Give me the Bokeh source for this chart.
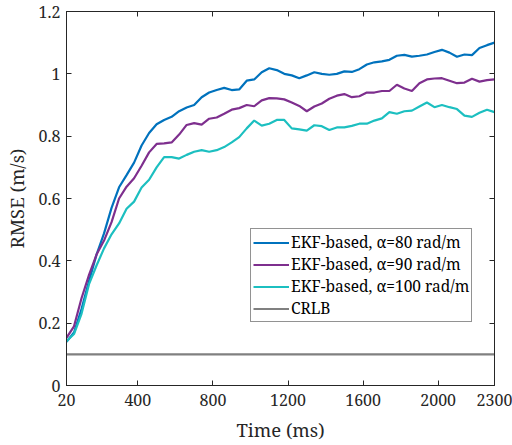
from bokeh.plotting import figure
from bokeh.models import Legend, LegendItem, LinearAxis, FixedTicker, Range1d, CustomJSTickFormatter
from bokeh.embed import file_html
from bokeh.resources import INLINE

time_ms = [20, 60, 100, 140, 180, 220, 260, 300, 340, 380, 420, 460, 500, 540, 580,
           620, 660, 700, 740, 780, 820, 860, 900, 940, 980, 1020, 1060, 1100, 1140,
           1180, 1220, 1260, 1300, 1340, 1380, 1420, 1460, 1500, 1540, 1580, 1620,
           1660, 1700, 1740, 1780, 1820, 1860, 1900, 1940, 1980, 2020, 2060, 2100,
           2140, 2180, 2220, 2260, 2300]

rmse_a80 = [0.140, 0.170, 0.245, 0.335, 0.420, 0.488, 0.570, 0.636, 0.675, 0.715,
            0.770, 0.810, 0.838, 0.852, 0.862, 0.880, 0.892, 0.900, 0.925, 0.940,
            0.948, 0.955, 0.948, 0.950, 0.978, 0.982, 1.005, 1.018, 1.012, 1.000,
            0.995, 0.986, 0.995, 1.005, 1.000, 0.997, 1.000, 1.008, 1.006, 1.015,
            1.030, 1.037, 1.040, 1.045, 1.058, 1.061, 1.055, 1.058, 1.062, 1.070,
            1.077, 1.068, 1.055, 1.062, 1.060, 1.083, 1.092, 1.100]

rmse_a90 = [0.153, 0.190, 0.280, 0.355, 0.420, 0.465, 0.524, 0.600, 0.638, 0.665,
            0.705, 0.748, 0.775, 0.777, 0.780, 0.805, 0.836, 0.842, 0.837, 0.856,
            0.860, 0.872, 0.885, 0.890, 0.900, 0.896, 0.915, 0.922, 0.921, 0.918,
            0.908, 0.897, 0.880, 0.895, 0.905, 0.920, 0.930, 0.935, 0.925, 0.928,
            0.940, 0.940, 0.945, 0.945, 0.965, 0.953, 0.945, 0.970, 0.982, 0.985,
            0.986, 0.978, 0.970, 0.972, 0.984, 0.975, 0.980, 0.982]

rmse_a100 = [0.142, 0.165, 0.230, 0.325, 0.385, 0.440, 0.485, 0.520, 0.567, 0.590,
             0.635, 0.660, 0.700, 0.733, 0.733, 0.728, 0.740, 0.750, 0.755, 0.750,
             0.755, 0.765, 0.780, 0.797, 0.825, 0.850, 0.834, 0.840, 0.852, 0.852,
             0.825, 0.822, 0.818, 0.835, 0.832, 0.820, 0.828, 0.828, 0.833, 0.840,
             0.840, 0.850, 0.857, 0.877, 0.872, 0.880, 0.882, 0.895, 0.908, 0.893,
             0.900, 0.893, 0.887, 0.866, 0.862, 0.875, 0.885, 0.877]

crlb_value = 0.1
crlb = [crlb_value] * len(time_ms)

labels = ["EKF-based, \u03b1=80 rad/m", "EKF-based, \u03b1=90 rad/m",
          "EKF-based, \u03b1=100 rad/m", "CRLB"]
colors = ["#0072BD", "#7E2F8E", "#1CBFC0", "#808080"]

x_ticks = [20, 400, 800, 1200, 1600, 2000, 2300]
y_ticks = [0, 0.2, 0.4, 0.6, 0.8, 1.0, 1.2]

FONT = "Noto Serif"
AX = "#262626"

p = figure(width=512, height=445, x_range=Range1d(20, 2300), y_range=Range1d(0, 1.2),
           output_backend="svg", toolbar_location=None,
           min_border_left=63, min_border_right=18, min_border_top=11, min_border_bottom=60)
p.background_fill_color = "white"
p.border_fill_color = "white"
p.outline_line_color = AX
p.outline_line_width = 1
p.grid.visible = False

fmt = CustomJSTickFormatter(code="return (Math.round(tick*10)/10).toString();")

for ax in p.xaxis:
    ax.ticker = FixedTicker(ticks=x_ticks)
    ax.axis_label = "Time (ms)"
    ax.major_label_standoff = 8
    ax.axis_label_standoff = 8
for ax in p.yaxis:
    ax.ticker = FixedTicker(ticks=y_ticks)
    ax.formatter = fmt
    ax.axis_label = "RMSE (m/s)"
    ax.major_label_standoff = 6
    ax.axis_label_standoff = 7

for ax in list(p.xaxis) + list(p.yaxis):
    ax.axis_line_color = AX
    ax.major_tick_line_color = AX
    ax.major_tick_in = 5
    ax.major_tick_out = 0
    ax.minor_tick_line_color = None
    ax.major_label_text_font = FONT
    ax.major_label_text_font_size = "16px"
    ax.major_label_text_color = AX
    ax.axis_label_text_font = FONT
    ax.axis_label_text_font_size = "18.5px"
    ax.axis_label_text_font_style = "normal"
    ax.axis_label_text_color = AX

for side, ticks in (("above", x_ticks), ("right", y_ticks)):
    a = LinearAxis(ticker=FixedTicker(ticks=ticks), major_label_text_font_size="1px",
                   major_label_text_color=None,
                   axis_line_color=AX, major_tick_line_color=AX, major_tick_in=5,
                   major_tick_out=0, minor_tick_line_color=None, major_label_standoff=0)
    p.add_layout(a, side)

series = [rmse_a80, rmse_a90, rmse_a100, crlb]
items = []
for vals, lab, col in zip(series, labels, colors):
    r = p.line(time_ms, vals, line_color=col, line_width=2.2)
    items.append(LegendItem(label=lab, renderers=[r]))

leg = Legend(items=items, location=(184, 63))
leg.label_text_font = FONT
leg.label_text_font_size = "15.5px"
leg.label_text_color = "black"
leg.border_line_color = AX
leg.border_line_width = 1
leg.background_fill_color = "white"
leg.background_fill_alpha = 1
leg.padding = 2
leg.spacing = 0
leg.margin = 0
leg.label_height = 19
leg.glyph_height = 19
leg.glyph_width = 36
leg.label_standoff = 2
p.add_layout(leg, "center")

open("out.html", "w").write(file_html(p, INLINE))
